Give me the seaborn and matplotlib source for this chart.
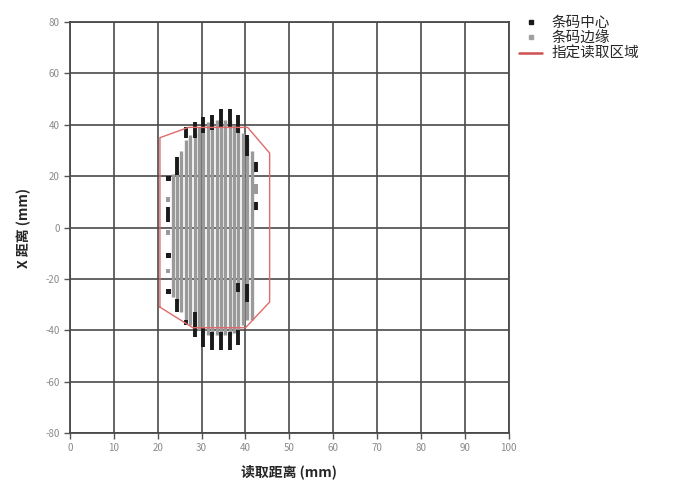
import matplotlib
matplotlib.use("Agg")
import matplotlib.pyplot as plt
from matplotlib.lines import Line2D
import seaborn as sns

# Edge points (gray) - dense columns: x position, lowest y, highest y
edge_x = [23.4, 24.4, 25.4, 26.4, 27.4, 28.4, 29.4, 30.4, 31.4, 32.4,
          33.4, 34.4, 35.4, 36.4, 37.4, 38.4, 39.4, 40.4, 41.4]
edge_lo = [-27, -29, -33, -36, -38, -39, -40, -41, -42, -42,
           -42, -42, -42, -42, -41, -40, -38, -36, -36]
edge_hi = [21, 22, 30, 34, 36, 37, 39, 40, 41, 41,
           42, 42, 42, 42, 40, 39, 37, 35, 30]
# single edge points
edge_pt_x = [22.4, 22.4, 22.4, 42.4, 42.4]
edge_pt_y = [11, -2, -17, 16, 14]

# Center points (black) - column runs: x, lowest y, highest y
center_x = [24.4, 24.4, 24.4, 26.4, 26.4, 26.4, 26.4, 26.4, 26.4,
            28.4, 28.4, 30.4, 30.4, 32.4, 32.4, 34.4, 34.4, 36.4, 36.4,
            38.4, 38.4, 38.4, 38.4, 40.4, 40.4, 40.4, 42.4, 42.4, 22.4]
center_lo = [20.5, 35, -33, 35, 33, 27, -38, -41, -28,
             35, -42.6, 37, -46.5, 38, -47.6, 39, -47.6, 39, -47.6,
             37, 29, -45.7, -25, 28, -29, -44, 21.5, 7, 2]
center_hi = [27.5, 35, -28, 39, 33, 27, -36, -41, -28,
             41, -33, 43, -39, 44, -40.6, 46, -40.6, 46, -40.6,
             44, 29, -40, -21.5, 36, -22, -44, 25.5, 10, 8]
# single center points
center_pt_x = [22.4, 22.4, 22.4]
center_pt_y = [19, -11, -25]

# Specified reading area outline
zone_x = [20.5, 20.5, 27, 40.5, 45.5, 45.5, 40, 28, 20.5]
zone_y = [-31, 35, 39, 39, 29, -29, -39, -39, -31]

x_ticks = list(range(0, 101, 10))
y_ticks = list(range(-80, 81, 20))

sns.set_style("white")
plt.rcParams["font.family"] = ["Noto Sans CJK SC", "DejaVu Sans"]

fig = plt.figure(figsize=(6.75, 4.88), dpi=100)
ax = fig.add_axes([0.1037, 0.1127, 0.650, 0.842])

ax.vlines(edge_x, edge_lo, edge_hi, color="#9a9a9a", linewidth=2.4, zorder=3)
ax.vlines(center_x, center_lo, center_hi, color="#1a1a1a", linewidth=2.8, zorder=4)
sns.scatterplot(x=edge_pt_x, y=edge_pt_y, marker="s", s=10, color="#9a9a9a",
                edgecolor="none", ax=ax, zorder=3)
sns.scatterplot(x=center_pt_x, y=center_pt_y, marker="s", s=12, color="#1a1a1a",
                edgecolor="none", ax=ax, zorder=4)
sns.lineplot(x=zone_x, y=zone_y, sort=False, estimator=None, color="#e06a6a",
             linewidth=1.0, ax=ax, zorder=5)

ax.set_xlim(0, 100)
ax.set_ylim(-80, 80)
ax.set_xticks(x_ticks)
ax.set_yticks(y_ticks)
ax.set_yticklabels([str(v) for v in y_ticks])
ax.grid(True, color="#4a4a4a", linewidth=1.2)
ax.set_axisbelow(True)
for sp in ax.spines.values():
    sp.set_color("#4a4a4a")
    sp.set_linewidth(1.3)
ax.tick_params(axis="both", colors="#555555", labelcolor="#8a8a8a",
               labelsize=7, length=4, width=1, direction="out",
               bottom=True, left=True)

ax.set_xlabel("读取距离 (mm)", fontsize=10, fontweight="bold", labelpad=8)
ax.set_ylabel("X 距离 (mm)", fontsize=10, fontweight="bold", labelpad=10)

handles = [
    Line2D([], [], marker="s", linestyle="none", color="#1a1a1a", markersize=3),
    Line2D([], [], marker="s", linestyle="none", color="#a0a0a0", markersize=3),
    Line2D([], [], color="#d05050", linewidth=1.8),
]
ax.legend(handles, ["条码中心", "条码边缘", "指定读取区域"], loc="upper left",
          bbox_to_anchor=(1.01, 1.03), frameon=False, fontsize=10.5,
          handlelength=1.6, handletextpad=0.6, labelspacing=0.1,
          borderaxespad=0)

fig.savefig("out.png", dpi=100)
